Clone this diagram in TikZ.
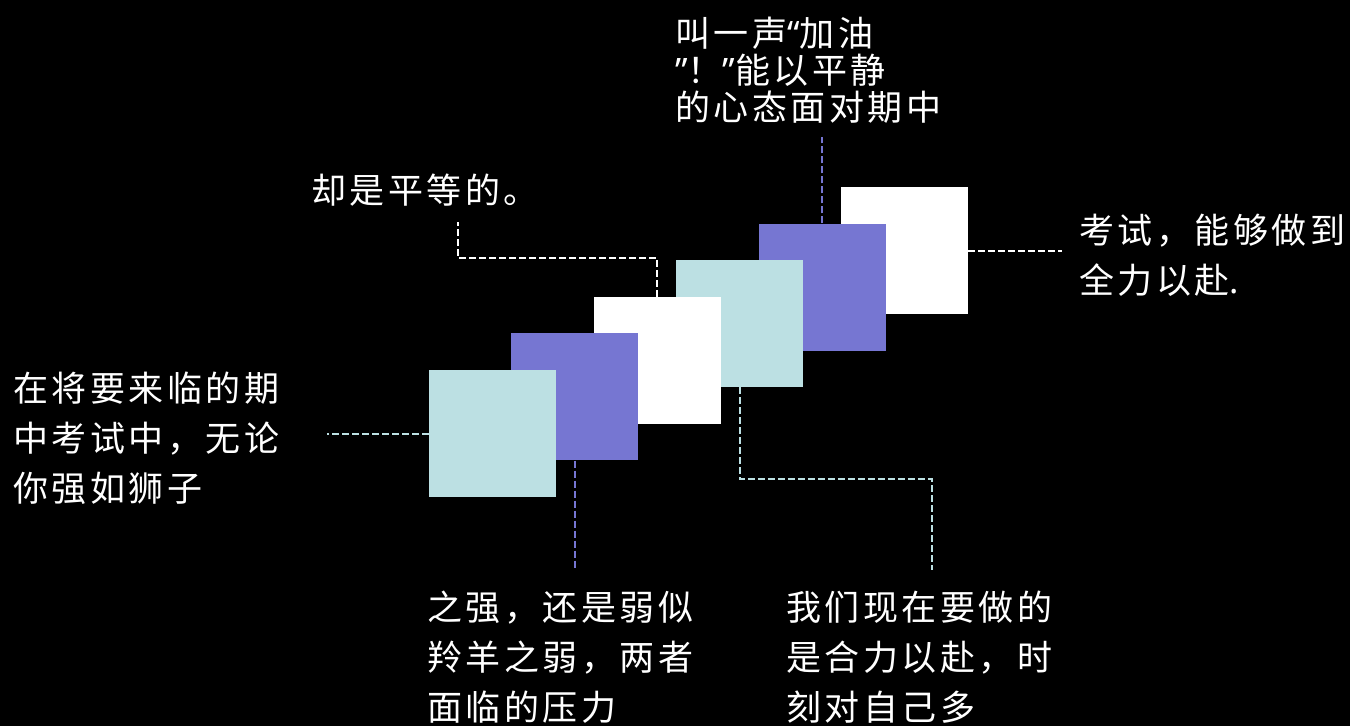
\documentclass[tikz,border=0pt]{standalone}
\usepackage{fontspec}
\newfontfamily\cnfont[LetterSpace=10]{Noto Sans CJK SC}
\newfontfamily\qfont[LetterSpace=25]{Noto Sans}
\usepackage{tikz}
\usetikzlibrary{positioning}

\definecolor{cardteal}{RGB}{188,224,227}
\definecolor{cardviolet}{RGB}{118,118,210}

\begin{document}
\begin{tikzpicture}[x=1pt,y=-1pt]
\tikzstyle{card}=[minimum size=127pt, inner sep=0pt]
\tikzstyle{txt}=[text=white, align=left, inner sep=0pt, anchor=west, font=\cnfont\fontsize{35}{50}\selectfont]
\tikzstyle{link}=[line width=2pt, dash pattern=on 7pt off 3pt]
\fill[black] (0,0) rectangle (1350,726);

% squares, back to front
\node[card, fill=white] (c6) at (904.5,250.5) {};
\node[card, fill=cardviolet] (c5) at (822.1,287.1) {};
\node[card, fill=cardteal] (c4) at (739.7,323.7) {};
\node[card, fill=white] (c3) at (657.3,360.3) {};
\node[card, fill=cardviolet] (c2) at (574.9,396.9) {};
\node[card, fill=cardteal] (c1) at (492.5,433.5) {};

% labels
\node[txt] (t1) at (13,438.5) {在将要来临的期\\中考试中，无论\\你强如狮子};
\node[txt] (t2) at (427,657.5) {之强，还是弱似\\羚羊之弱，两者\\面临的压力};
\node[txt] (t3) at (311,190) {却是平等的。};
\node[txt] (t4) at (786,657.5) {我们现在要做的\\是合力以赴，时\\刻对自己多};
\node[txt, font=\cnfont\fontsize{35}{37}\selectfont] (t5) at (675,70)
  {叫一声{\qfont “}加油\\{\qfont ”}！{\qfont ”}能以平静\\的心态面对期中};
\node[txt] (t6) at (1079,255.5) {考试，能够做到\\全力以赴{\qfont .}};

% connectors
\coordinate (e1) at (327,433.5);
\coordinate (e2) at (574.9,568);
\coordinate (b3) at (458,258);
\coordinate (e3) at (458,222);
\coordinate (b4) at (932,479);
\coordinate (e4) at (932,570);
\coordinate (e5) at (822.1,137);
\coordinate (e6) at (1062,250.5);

\draw[link, cardteal] (c1.west) -- (e1);
\draw[link, cardviolet] (c2.south) -- (e2);
\draw[link, white] (c3.north) |- (b3) -- (e3);
\draw[link, cardteal] (c4.south) |- (b4) -- (e4);
\draw[link, cardviolet] (c5.north) -- (e5);
\draw[link, white] (c6.east) -- (e6);
\end{tikzpicture}
\end{document}
